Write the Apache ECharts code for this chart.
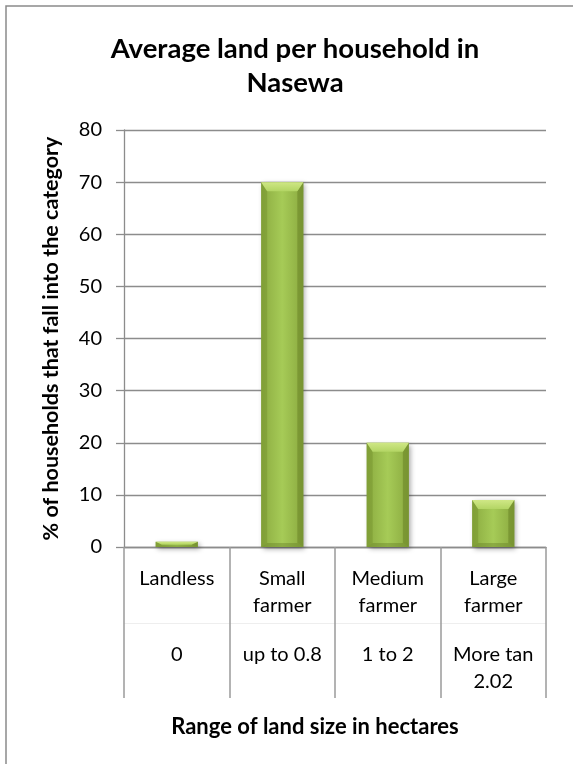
<!DOCTYPE html>
<html>
<head>
<meta charset="utf-8">
<script src="https://cdn.jsdelivr.net/npm/echarts@6/dist/echarts.min.js"></script>
<style>
html,body{margin:0;padding:0;background:#fff;}
#chart{width:573px;height:764px;}
</style>
</head>
<body>
<div id="chart"></div>
<script>
const categories = ['Landless', 'Small\nfarmer', 'Medium\nfarmer', 'Large\nfarmer'];
const ranges = ['0', 'up to 0.8', '1 to 2', 'More tan\n2.02'];
const values = [1, 70, 20, 9];
const yTicks = [0, 10, 20, 30, 40, 50, 60, 70, 80];

const FONT = 'Lato, "Open Sans", sans-serif';
const chart = echarts.init(document.getElementById('chart'), null, {renderer: 'canvas'});

function renderBar(params, api) {
  const idx = api.value(0), v = api.value(1);
  const top = api.coord([idx, v]);
  const base = api.coord([idx, 0]);
  const band = api.size([1, 0])[0];
  const w = band * 0.4;
  const l = top[0] - w / 2, r = top[0] + w / 2, t = top[1], b = base[1];
  const h = b - t;
  const bev = Math.min(9, h / 2);
  const bevB = Math.min(4, h / 3);
  const side = Math.min(6, w / 4);
  return {
    type: 'group',
    children: [
      {type: 'rect', shape: {x: l, y: t, width: w, height: h},
        style: {
          fill: new echarts.graphic.LinearGradient(0, 0, 1, 0, [
            {offset: 0, color: '#8bab40'}, {offset: 0.5, color: '#a6cb57'}, {offset: 1, color: '#8aa93f'}
          ]),
          shadowBlur: 5, shadowColor: 'rgba(0,0,0,0.35)', shadowOffsetX: 2, shadowOffsetY: 2
        }},
      {type: 'polygon', shape: {points: [[l, b], [l + side, b - bevB], [l + side, t + bev], [l, t]]},
        style: {fill: 'rgba(115,145,45,0.45)'}},
      {type: 'polygon', shape: {points: [[r, b], [r - side, b - bevB], [r - side, t + bev], [r, t]]},
        style: {fill: 'rgba(105,132,38,0.55)'}},
      {type: 'polygon', shape: {points: [[l, b], [r, b], [r - side, b - bevB], [l + side, b - bevB]]},
        style: {fill: 'rgba(100,125,38,0.4)'}},
      {type: 'polygon', shape: {points: [[l, t], [r, t], [r - side, t + bev], [l + side, t + bev]]},
        style: {fill: new echarts.graphic.LinearGradient(0, 0, 0, 1, [
          {offset: 0, color: '#cfe785'}, {offset: 1, color: '#b3d564'}
        ])}}
    ]
  };
}

const option = {
  backgroundColor: '#ffffff',
  animation: false,
  title: {
    text: 'Average land per household in\nNasewa',
    left: 290, top: 27, textAlign: 'center',
    textStyle: {fontFamily: FONT, fontWeight: 'bold', fontSize: 27.5, lineHeight: 34, color: '#000'}
  },
  graphic: [{
    type: 'rect', shape: {x: 6, y: 6, width: 640, height: 840},
    style: {fill: 'none', stroke: '#8a8a8a', lineWidth: 1.5}, silent: true
  }],
  grid: {left: 124, right: 27, top: 130, bottom: 217},
  xAxis: [{
    type: 'category', data: categories, position: 'bottom',
    axisLine: {show: true, lineStyle: {color: '#8c8c8c', width: 1.3}},
    axisTick: {show: true, interval: 0, length: 151, lineStyle: {color: '#9a9a9a', width: 1.5}},
    axisLabel: {interval: 0, margin: 18, fontFamily: FONT, fontSize: 20, lineHeight: 27, color: '#000'}
  }, {
    type: 'category', data: ranges, position: 'bottom', offset: 76,
    axisLine: {show: true, lineStyle: {color: '#eeeeee', width: 1}},
    axisTick: {show: false},
    axisLabel: {interval: 0, margin: 18, fontFamily: FONT, fontSize: 20, lineHeight: 27, color: '#000'},
    name: 'Range of land size in hectares', nameLocation: 'middle', nameGap: 93,
    nameTextStyle: {fontFamily: FONT, fontWeight: 'bold', fontSize: 22, color: '#000', padding: [0, 40, 0, 0]}
  }],
  yAxis: {
    type: 'value', min: yTicks[0], max: yTicks[yTicks.length - 1], interval: yTicks[1] - yTicks[0],
    axisLine: {show: true, lineStyle: {color: '#8c8c8c', width: 1.3}},
    axisTick: {show: true, length: 8, lineStyle: {color: '#8c8c8c', width: 1.3}},
    splitLine: {show: true, lineStyle: {color: '#8c8c8c', width: 1.3}},
    axisLabel: {margin: 22, fontFamily: FONT, fontSize: 20, color: '#000'},
    name: '% of households that fall into the category', nameLocation: 'middle', nameGap: 62, nameRotate: 90,
    nameTextStyle: {fontFamily: FONT, fontWeight: 'bold', fontSize: 21.5, color: '#000'}
  },
  series: [{
    type: 'custom', xAxisIndex: 0, renderItem: renderBar,
    data: values.map((v, i) => [i, v]),
    encode: {x: 0, y: 1}
  }]
};
chart.setOption(option);
</script>
</body>
</html>
